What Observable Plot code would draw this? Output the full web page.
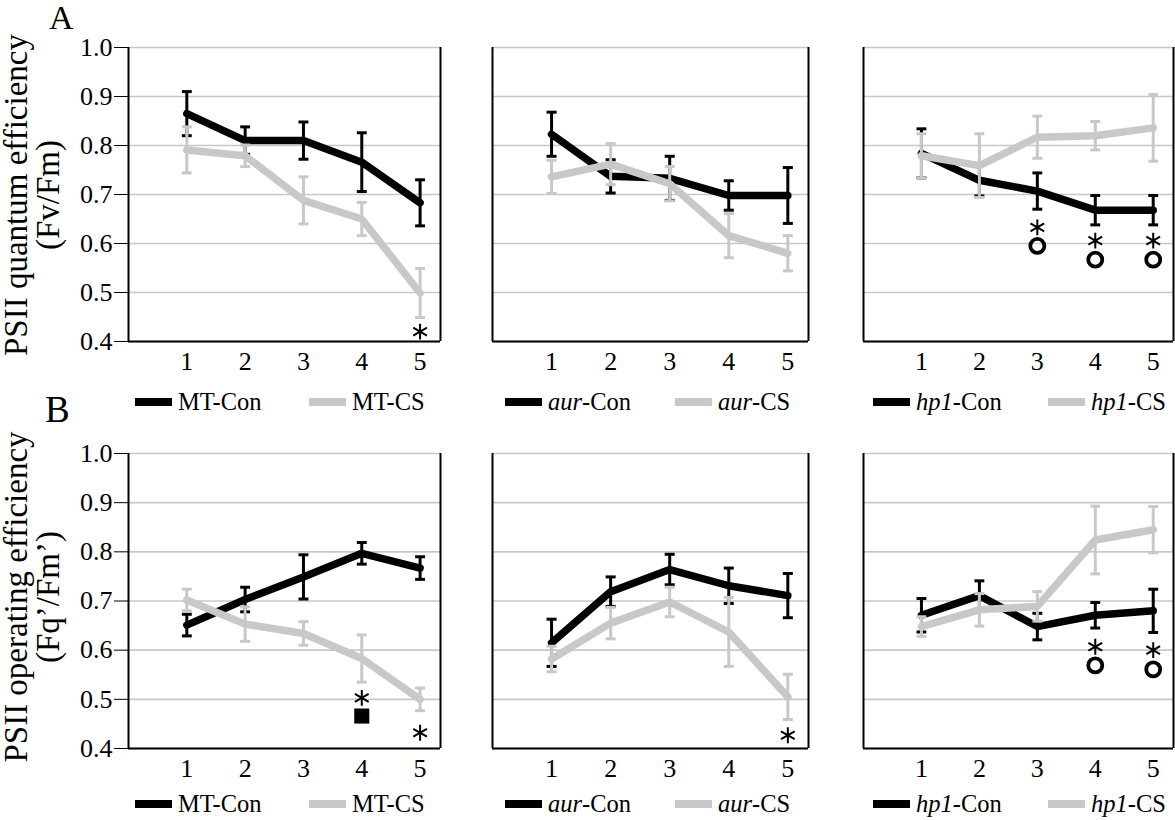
<!DOCTYPE html>
<html>
<head>
<meta charset="utf-8">
<script src="https://cdn.jsdelivr.net/npm/d3@7"></script>
<script src="https://cdn.jsdelivr.net/npm/@observablehq/plot@0.6"></script>
<style>
  html, body { margin: 0; padding: 0; background: #fff; overflow: hidden; }
  #wrap { position: relative; width: 1175px; height: 820px; font-family: "Liberation Serif", "Times New Roman", Times, serif; color: #000; }
  #wrap svg, #wrap svg text { font-family: "Liberation Serif", "Times New Roman", Times, serif !important; }
  .abs { position: absolute; }
  .panel-letter { line-height: 1; }
  .ytitle { font-size: 33px; line-height: 32px; text-align: center; white-space: nowrap; transform: translate(-50%, -50%) rotate(-90deg); }
  .leg { display: flex; align-items: center; height: 28px; font-size: 24.5px; line-height: 1; white-space: nowrap; }
  .sw { display: inline-block; width: 37px; height: 8px; margin-right: 6px; }
</style>
</head>
<body>
<div id="wrap"></div>
<script>
// ---------- data ----------
const days = [1, 2, 3, 4, 5];
const yTicks = [0.4, 0.5, 0.6, 0.7, 0.8, 0.9, 1.0];

// A: PSII quantum efficiency (Fv/Fm)
const A_MT_Con     = [0.865, 0.810, 0.810, 0.766, 0.683];
const A_MT_Con_err = [0.045, 0.028, 0.038, 0.060, 0.047];
const A_MT_CS      = [0.791, 0.779, 0.688, 0.650, 0.499];
const A_MT_CS_err  = [0.047, 0.022, 0.048, 0.034, 0.050];

const A_aur_Con     = [0.823, 0.737, 0.733, 0.698, 0.698];
const A_aur_Con_err = [0.045, 0.034, 0.045, 0.030, 0.057];
const A_aur_CS      = [0.736, 0.762, 0.722, 0.616, 0.580];
const A_aur_CS_err  = [0.034, 0.042, 0.035, 0.045, 0.036];

const A_hp1_Con     = [0.784, 0.729, 0.707, 0.668, 0.668];
const A_hp1_Con_err = [0.050, 0.032, 0.037, 0.030, 0.030];
const A_hp1_CS      = [0.779, 0.759, 0.817, 0.820, 0.836];
const A_hp1_CS_err  = [0.045, 0.065, 0.043, 0.029, 0.068];

// B: PSII operating efficiency (Fq'/Fm')
const B_MT_Con     = [0.651, 0.703, 0.749, 0.797, 0.767];
const B_MT_Con_err = [0.022, 0.025, 0.045, 0.022, 0.023];
const B_MT_CS      = [0.702, 0.653, 0.634, 0.583, 0.500];
const B_MT_CS_err  = [0.022, 0.035, 0.024, 0.048, 0.023];

const B_aur_Con     = [0.615, 0.719, 0.764, 0.731, 0.711];
const B_aur_Con_err = [0.048, 0.030, 0.031, 0.036, 0.045];
const B_aur_CS      = [0.582, 0.655, 0.698, 0.637, 0.505];
const B_aur_CS_err  = [0.026, 0.032, 0.030, 0.070, 0.046];

const B_hp1_Con     = [0.671, 0.711, 0.648, 0.671, 0.680];
const B_hp1_Con_err = [0.034, 0.030, 0.027, 0.026, 0.044];
const B_hp1_CS      = [0.648, 0.682, 0.689, 0.824, 0.845];
const B_hp1_CS_err  = [0.020, 0.033, 0.030, 0.069, 0.047];

// significance markers: [day, value, kind]
const A_MT_sig  = [[5, 0.420, "star"]];
const A_aur_sig = [];
const A_hp1_sig = [[3, 0.633, "star"], [3, 0.595, "circle"], [4, 0.606, "star"], [4, 0.567, "circle"], [5, 0.606, "star"], [5, 0.567, "circle"]];
const B_MT_sig  = [[4, 0.503, "star"], [4, 0.466, "square"], [5, 0.432, "star"]];
const B_aur_sig = [[5, 0.427, "star"]];
const B_hp1_sig = [[4, 0.607, "star"], [4, 0.569, "circle"], [5, 0.600, "star"], [5, 0.561, "circle"]];

// legend labels: [genotype, control suffix, cold-stress suffix, italic]
const legendLabels = [["MT", "-Con", "-CS", false], ["aur", "-Con", "-CS", true], ["hp1", "-Con", "-CS", true]];

// ---------- layout ----------
const BLACK = "#000000", GRAY = "#c8c8c8";
const FONT = '"Liberation Serif", "Times New Roman", Times, serif';
const xMax = 5.35;
const colL = [128, 492, 863], colR = [440, 808, 1173];
const rowT = [47, 453], rowB = [341, 748];
const wrap = document.getElementById("wrap");

function series(vals, errs) {
  return days.map((d, i) => ({x: d, y: vals[i], lo: vals[i] - errs[i], hi: vals[i] + errs[i]}));
}
function errMarks(data, color) {
  const cap = 0.085;
  return [
    Plot.ruleX(data, {x: "x", y1: "lo", y2: "hi", stroke: color, strokeWidth: 3}),
    Plot.link(data, {x1: d => d.x - cap, x2: d => d.x + cap, y1: "hi", y2: "hi", stroke: color, strokeWidth: 3}),
    Plot.link(data, {x1: d => d.x - cap, x2: d => d.x + cap, y1: "lo", y2: "lo", stroke: color, strokeWidth: 3})
  ];
}

function panel(c, r, con, conErr, cs, csErr, sig) {
  const showY = c === 0;
  const mL = showY ? 90 : 8, mR = 2, mT = 6, mB = 40;
  const L = colL[c], R = colR[c], T = rowT[r], B = rowB[r];
  const conData = series(con, conErr), csData = series(cs, csErr);
  const sigObjs = sig.map(([x, y, k]) => ({x, y, k}));
  const plot = Plot.plot({
    width: R - L + mL + mR,
    height: B - T + mT + mB,
    marginLeft: mL, marginRight: mR, marginTop: mT, marginBottom: mB,
    x: {domain: [0, xMax], ticks: days, tickSize: 0, tickPadding: 10, tickFormat: d => String(d), label: null},
    y: showY
      ? {domain: [0.4, 1.0], ticks: yTicks, tickSize: 14, tickPadding: 2, tickFormat: d => d.toFixed(1), label: null}
      : {domain: [0.4, 1.0], axis: null, label: null},
    style: {fontFamily: FONT, fontSize: "26px", background: "transparent", overflow: "visible", color: "#000"},
    marks: [
      Plot.ruleY(yTicks, {stroke: GRAY, strokeWidth: 1.6}),
      Plot.ruleX([0, xMax], {stroke: BLACK, strokeWidth: 2}),
      Plot.ruleY([0.4], {stroke: BLACK, strokeWidth: 2}),
      Plot.line(conData, {x: "x", y: "y", stroke: BLACK, strokeWidth: 7.5, strokeLinejoin: "miter"}),
      ...errMarks(conData, BLACK),
      Plot.line(csData, {x: "x", y: "y", stroke: GRAY, strokeWidth: 7.5, strokeLinejoin: "miter"}),
      ...errMarks(csData, GRAY),
      Plot.dot(sigObjs.filter(d => d.k === "star"), {x: "x", y: "y", symbol: "asterisk", r: 7.5, stroke: BLACK, strokeWidth: 2}),
      Plot.dot(sigObjs.filter(d => d.k === "circle"), {x: "x", y: "y", symbol: "circle", r: 7, stroke: BLACK, strokeWidth: 3.8, fill: "none"}),
      Plot.dot(sigObjs.filter(d => d.k === "square"), {x: "x", y: "y", symbol: "square", r: 8.5, fill: BLACK, stroke: "none"})
    ]
  });
  plot.setAttribute("font-family", FONT);
  plot.querySelectorAll("text").forEach(t => t.setAttribute("font-family", FONT));
  plot.style.position = "absolute";
  plot.style.left = (L - mL) + "px";
  plot.style.top = (T - mT) + "px";
  wrap.appendChild(plot);
}

panel(0, 0, A_MT_Con, A_MT_Con_err, A_MT_CS, A_MT_CS_err, A_MT_sig);
panel(1, 0, A_aur_Con, A_aur_Con_err, A_aur_CS, A_aur_CS_err, A_aur_sig);
panel(2, 0, A_hp1_Con, A_hp1_Con_err, A_hp1_CS, A_hp1_CS_err, A_hp1_sig);
panel(0, 1, B_MT_Con, B_MT_Con_err, B_MT_CS, B_MT_CS_err, B_MT_sig);
panel(1, 1, B_aur_Con, B_aur_Con_err, B_aur_CS, B_aur_CS_err, B_aur_sig);
panel(2, 1, B_hp1_Con, B_hp1_Con_err, B_hp1_CS, B_hp1_CS_err, B_hp1_sig);

// ---------- legends ----------
const legBlackX = [135, 505, 873], legGrayX = [309, 675, 1048];
const legY = [402, 804];
function addLegend(left, cy, color, name, suffix, italic) {
  const d = document.createElement("div");
  d.className = "abs leg";
  d.style.left = left + "px";
  d.style.top = (cy - 14) + "px";
  const sw = document.createElement("span");
  sw.className = "sw";
  sw.style.background = color;
  d.appendChild(sw);
  const t = document.createElement("span");
  const n = document.createElement(italic ? "i" : "span");
  n.textContent = name;
  t.appendChild(n);
  t.appendChild(document.createTextNode(suffix));
  d.appendChild(t);
  wrap.appendChild(d);
}
for (let r = 0; r < 2; r++) {
  legendLabels.forEach(([name, s1, s2, it], c) => {
    addLegend(legBlackX[c], legY[r], BLACK, name, s1, it);
    addLegend(legGrayX[c], legY[r], GRAY, name, s2, it);
  });
}

// ---------- titles ----------
function addDiv(cls, html, left, top, size) {
  const d = document.createElement("div");
  d.className = "abs " + cls;
  d.innerHTML = html;
  d.style.left = left + "px";
  d.style.top = top + "px";
  if (size) d.style.fontSize = size + "px";
  wrap.appendChild(d);
}
addDiv("panel-letter", "A", 49, 1, 34);
addDiv("panel-letter", "B", 45, 391, 37);
addDiv("ytitle", "PSII quantum efficiency<br>(Fv/Fm)", 32, 195);
addDiv("ytitle", "PSII operating efficiency<br>(Fq\u2019/Fm\u2019)", 32, 597);
</script>
</body>
</html>
